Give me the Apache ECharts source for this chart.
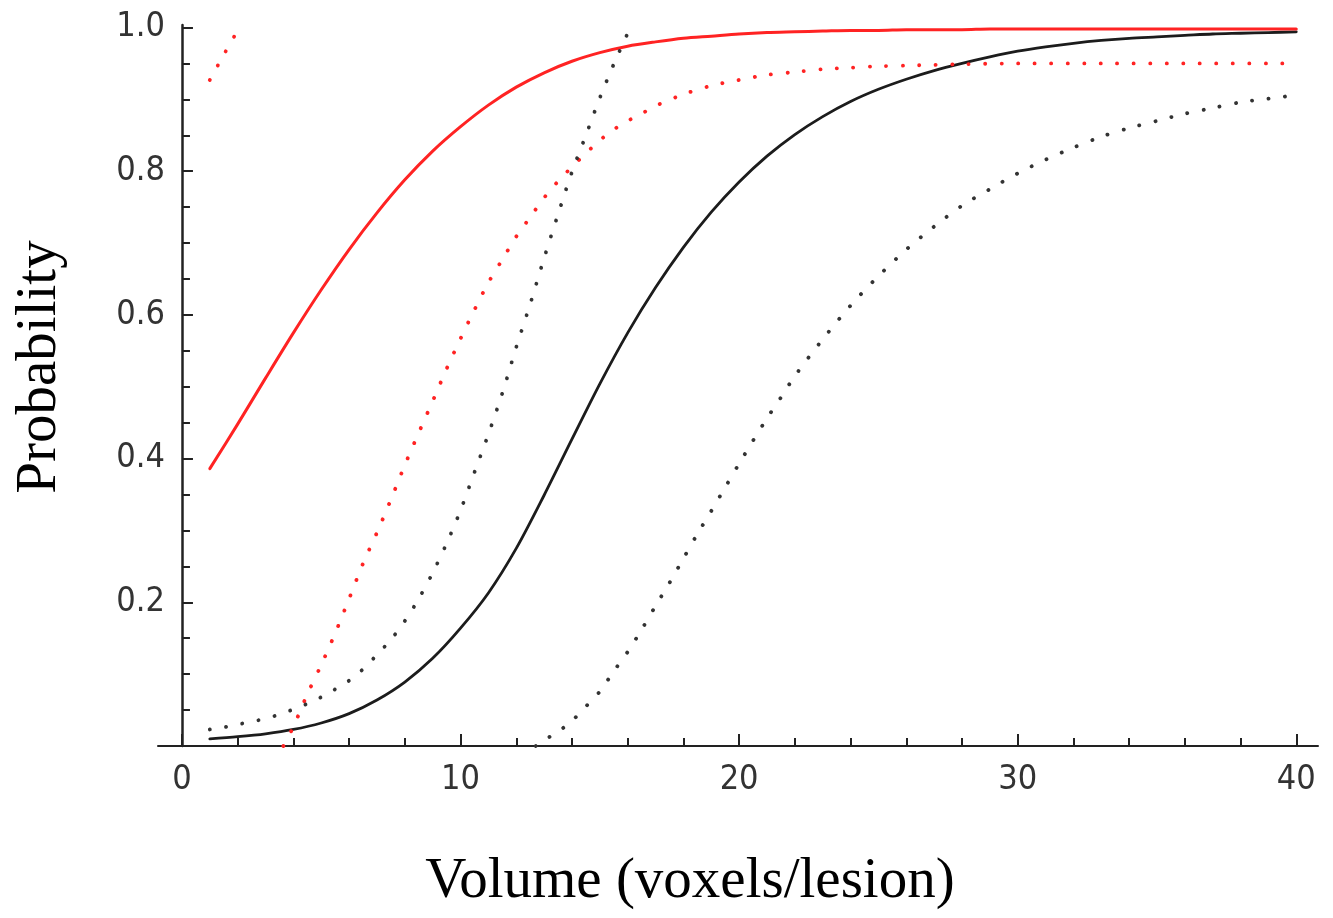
<!DOCTYPE html>
<html>
<head>
<meta charset="utf-8">
<script src="https://cdn.jsdelivr.net/npm/echarts@6/dist/echarts.min.js"></script>
<style>
  html, body { margin: 0; padding: 0; background: #ffffff; }
  #chart { width: 1333px; height: 918px; }
</style>
</head>
<body>
<div id="chart"></div>
<script>
// Axis tick values
const xTicks = [0, 10, 20, 30, 40];
const xMinorTicks = [2, 4, 6, 8, 12, 14, 16, 18, 22, 24, 26, 28, 32, 34, 36, 38];
const yTicks = [0.2, 0.4, 0.6, 0.8, 1.0];
const yMinorTicks = [0.05, 0.1, 0.15, 0.25, 0.3, 0.35, 0.45, 0.5, 0.55, 0.65, 0.7, 0.75, 0.85, 0.9, 0.95];

// Fitted probability curve (red)
const redFitX = [1, 2, 3, 4, 5, 6, 7, 8, 9, 10, 11, 12, 13, 14, 15, 16, 17, 18, 19, 20,
                 21, 22, 23, 24, 25, 26, 27, 28, 29, 30, 31, 32, 33, 34, 35, 36, 37, 38, 39, 40];
const redFitY = [0.386, 0.448, 0.512, 0.575, 0.635, 0.691, 0.742, 0.788, 0.828, 0.862,
                 0.892, 0.917, 0.937, 0.953, 0.965, 0.974, 0.980, 0.985, 0.988, 0.991,
                 0.993, 0.994, 0.995, 0.996, 0.996, 0.997, 0.997, 0.997, 0.998, 0.998,
                 0.998, 0.998, 0.998, 0.998, 0.998, 0.998, 0.998, 0.998, 0.998, 0.998];

// Red confidence band: upper and lower limits
const redUpperX = [1, 1.5, 2];
const redUpperY = [0.927, 0.962, 0.996];
const redLowerX = [3.64, 4, 4.5, 5, 5.5, 6, 6.5, 7, 7.5, 8, 8.5, 9, 9.5, 10, 10.5, 11, 11.5, 12,
                   12.5, 13, 13.5, 14, 14.5, 15, 15.5, 16, 16.5, 17, 18, 19, 20, 21, 22, 23, 24,
                   25, 26, 27, 28, 30, 33, 36, 40];
const redLowerY = [0, 0.027, 0.072, 0.113, 0.157, 0.205, 0.254, 0.297, 0.343, 0.391, 0.436,
                   0.480, 0.525, 0.567, 0.607, 0.645, 0.677, 0.709, 0.736, 0.763, 0.786, 0.806,
                   0.825, 0.843, 0.858, 0.870, 0.880, 0.891, 0.907, 0.919, 0.927, 0.934, 0.938,
                   0.942, 0.944, 0.946, 0.947, 0.948, 0.949, 0.950, 0.950, 0.950, 0.950];

// Fitted probability curve (black)
const blackFitX = [1, 2, 3, 4, 5, 6, 7, 8, 9, 10, 11, 12, 13, 14, 15, 16, 17, 18, 19, 20,
                   21, 22, 23, 24, 25, 26, 27, 28, 29, 30, 31, 32, 33, 34, 35, 36, 37, 38, 39, 40];
const blackFitY = [0.010, 0.013, 0.017, 0.023, 0.032, 0.045, 0.064, 0.089, 0.122, 0.164,
                   0.213, 0.275, 0.349, 0.427, 0.504, 0.575, 0.638, 0.694, 0.743, 0.785,
                   0.821, 0.851, 0.876, 0.897, 0.914, 0.928, 0.940, 0.950, 0.959, 0.967,
                   0.973, 0.978, 0.982, 0.985, 0.987, 0.989, 0.991, 0.992, 0.993, 0.994];

// Black confidence band: upper and lower limits
const blackUpperX = [1, 1.5, 2, 2.5, 3, 3.5, 4, 4.5, 5, 5.5, 6, 6.5, 7, 7.5, 8, 8.5, 9, 9.5,
                     10, 10.5, 11, 11.5, 12, 12.5, 13, 13.5, 14, 14.5, 15, 15.5, 16, 16.1];
const blackUpperY = [0.023, 0.026, 0.030, 0.034, 0.038, 0.044, 0.051, 0.059, 0.068, 0.079,
                     0.091, 0.107, 0.127, 0.148, 0.174, 0.205, 0.241, 0.282, 0.328, 0.381,
                     0.434, 0.491, 0.555, 0.615, 0.679, 0.740, 0.799, 0.850, 0.902, 0.949,
                     0.992, 1.0];
const blackLowerX = [12.7, 13, 13.5, 14, 14.5, 15, 15.5, 16, 16.5, 17, 17.5, 18, 18.5, 19, 19.5,
                     20, 20.5, 21, 21.5, 22, 23, 24, 25, 26, 27, 28, 29, 30, 31, 32, 33, 34, 35,
                     36, 37, 38, 39, 40];
const blackLowerY = [0, 0.008, 0.020, 0.035, 0.055, 0.076, 0.104, 0.131, 0.162, 0.195, 0.227,
                     0.261, 0.295, 0.327, 0.360, 0.393, 0.425, 0.456, 0.485, 0.515, 0.566,
                     0.613, 0.654, 0.691, 0.723, 0.752, 0.775, 0.797, 0.816, 0.833, 0.848,
                     0.860, 0.870, 0.880, 0.888, 0.896, 0.901, 0.906];

function pairs(xs, ys) {
  return xs.map((x, i) => [x, ys[i]]);
}

const RED = '#ff2323';
const BLACK = '#1c1c1c';
const DOT_BLACK = '#333333';
const TICK_FONT = "'DejaVu Sans Condensed', 'Liberation Sans Narrow', sans-serif";
const TITLE_FONT = "'Liberation Serif', 'Times New Roman', serif";
const AXIS_COLOR = '#222222';

const X_MIN = -0.86, X_MAX = 40.78;
const Y_MIN = 0, Y_MAX = 1.0035;

function solid(name, data, color, width) {
  return {
    name, type: 'line', data, xAxisIndex: 0, yAxisIndex: 0,
    showSymbol: false, smooth: 0.3, silent: true,
    lineStyle: { color, width, cap: 'round', join: 'round' },
    z: 3
  };
}
function dotted(name, data, color) {
  return {
    name, type: 'line', data, xAxisIndex: 0, yAxisIndex: 0,
    showSymbol: false, smooth: 0.3, silent: true,
    lineStyle: { color, width: 3.8, type: [0.1, 16.4], cap: 'round' },
    z: 4
  };
}

const chart = echarts.init(document.getElementById('chart'), null, { renderer: 'canvas' });

chart.setOption({
  backgroundColor: '#ffffff',
  animation: false,
  grid: { left: 158, right: 15, top: 25, bottom: 172, outerBoundsMode: 'none', containLabel: false },
  xAxis: [
    {
      type: 'value', min: X_MIN, max: X_MAX,
      axisLine: { show: true, onZero: true, lineStyle: { color: AXIS_COLOR, width: 2 } },
      axisTick: { show: true, inside: true, length: 12, customValues: xTicks,
                  lineStyle: { color: AXIS_COLOR, width: 2 } },
      axisLabel: { show: true, customValues: xTicks, margin: 17, color: '#333333',
                   fontSize: 34, fontFamily: TICK_FONT, formatter: v => String(v) },
      splitLine: { show: false }
    },
    {
      type: 'value', min: X_MIN, max: X_MAX, position: 'bottom',
      axisLine: { show: false, onZero: true },
      axisTick: { show: true, inside: true, length: 8, customValues: xMinorTicks,
                  lineStyle: { color: AXIS_COLOR, width: 2 } },
      axisLabel: { show: false },
      splitLine: { show: false }
    }
  ],
  yAxis: [
    {
      type: 'value', min: Y_MIN, max: Y_MAX,
      axisLine: { show: true, onZero: true, onZeroAxisIndex: 0, lineStyle: { color: AXIS_COLOR, width: 2.5 } },
      axisTick: { show: true, inside: true, length: 11, customValues: yTicks,
                  lineStyle: { color: AXIS_COLOR, width: 2 } },
      axisLabel: { show: true, customValues: yTicks, margin: -7, color: '#333333',
                   fontSize: 34, fontFamily: TICK_FONT, formatter: v => v.toFixed(1) },
      splitLine: { show: false }
    },
    {
      type: 'value', min: Y_MIN, max: Y_MAX, position: 'left',
      axisLine: { show: false, onZero: true, onZeroAxisIndex: 0 },
      axisTick: { show: true, inside: true, length: 8, customValues: yMinorTicks,
                  lineStyle: { color: AXIS_COLOR, width: 2 } },
      axisLabel: { show: false },
      splitLine: { show: false }
    }
  ],
  graphic: [
    {
      type: 'text', x: 690, y: 882,
      style: { text: 'Volume (voxels/lesion)', fill: '#000000', font: "57px " + TITLE_FONT,
               align: 'center', verticalAlign: 'middle' }
    },
    {
      type: 'text', x: 40, y: 367, rotation: Math.PI / 2,
      style: { text: 'Probability', fill: '#000000', font: "57px " + TITLE_FONT,
               align: 'center', verticalAlign: 'middle' }
    }
  ],
  series: [
    solid('black fit', pairs(blackFitX, blackFitY), BLACK, 2.8),
    solid('red fit', pairs(redFitX, redFitY), RED, 3),
    dotted('red upper', pairs(redUpperX, redUpperY), RED),
    dotted('red lower', pairs(redLowerX, redLowerY), RED),
    dotted('black upper', pairs(blackUpperX, blackUpperY), DOT_BLACK),
    dotted('black lower', pairs(blackLowerX, blackLowerY), DOT_BLACK)
  ]
});
</script>
</body>
</html>
